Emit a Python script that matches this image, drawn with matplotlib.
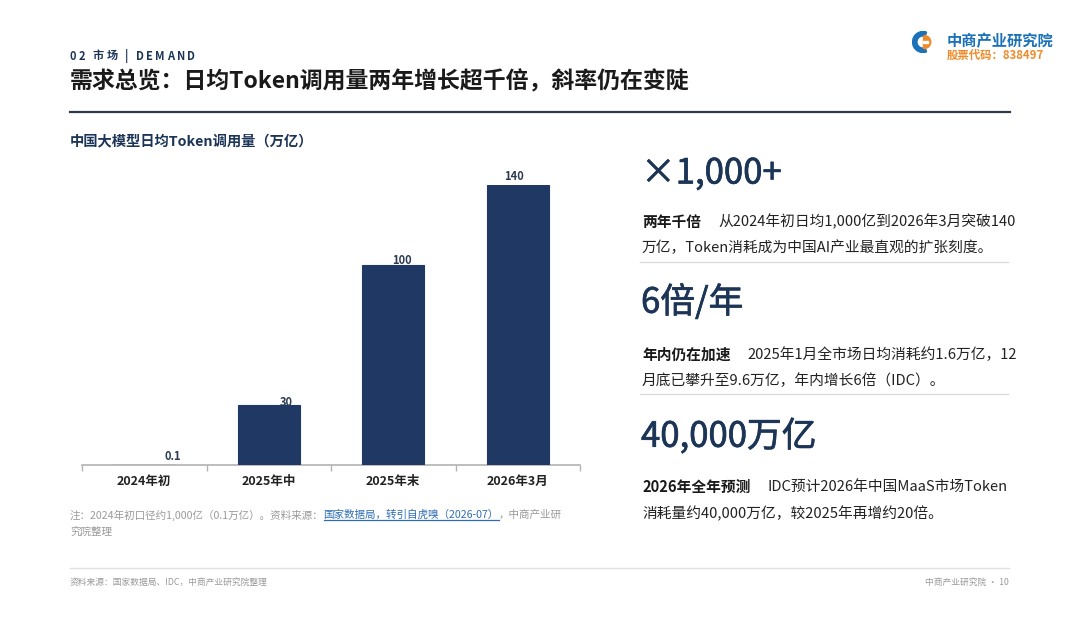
import matplotlib
matplotlib.use("Agg")
import matplotlib.pyplot as plt
import matplotlib.patheffects as pe
from matplotlib.patches import Wedge, Rectangle
from matplotlib.lines import Line2D
from matplotlib.ticker import FixedLocator

plt.rcParams['font.family'] = ['Noto Sans CJK SC', 'DejaVu Sans']

# ---------------- data ----------------
categories = ["2024年初", "2025年中", "2025年末", "2026年3月"]
values = [0.1, 30, 100, 140]
value_labels = ["0.1", "30", "100", "140"]

section_tag = "02 市场 | DEMAND"
title = "需求总览：日均Token调用量两年增长超千倍，斜率仍在变陡"
chart_title = "中国大模型日均Token调用量（万亿）"

kpi_big = ["×1,000+", "6倍/年", "40,000万亿"]
kpi_lead = ["两年千倍", "年内仍在加速", "2026年全年预测"]
kpi_line1 = ["从2024年初日均1,000亿到2026年3月突破140",
             "2025年1月全市场日均消耗约1.6万亿，12",
             "IDC预计2026年中国MaaS市场Token"]
kpi_line2 = ["万亿，Token消耗成为中国AI产业最直观的扩张刻度。",
             "月底已攀升至9.6万亿，年内增长6倍（IDC）。",
             "消耗量约40,000万亿，较2025年再增约20倍。"]

note_a = "注：2024年初口径约1,000亿（0.1万亿）。资料来源："
note_link = "国家数据局，转引自虎嗅（2026-07）"
note_b = "，中商产业研"
note_c = "究院整理"
footer_left = "资料来源：国家数据局、IDC，中商产业研究院整理"
footer_right = "中商产业研究院 · 10"
logo_name = "中商产业研究院"
logo_code = "股票代码：838497"

# ---------------- style ----------------
W, H = 1080, 623
NAVY = "#1f3864"
TXT_NAVY = "#1c3557"
DARK = "#222222"
GRAY = "#9a9a9a"
LINK = "#2e6db4"

fig = plt.figure(figsize=(W / 100, H / 100), dpi=100)
fig.patch.set_facecolor("white")


def fx(x):
    return x / W


def fy(y):
    return 1 - y / H


# header
fig.text(fx(70), fy(82), title, fontsize=16.5, fontweight="bold",
         color="#1a1a1a", va="center", ha="left")
fig.add_artist(Line2D([fx(70), fx(1010)], [fy(112), fy(112)],
                      color="#2b3a4f", lw=1.6, transform=fig.transFigure))

# logo
lax = fig.add_axes([fx(912), fy(53), fx(22) - fx(0), (22) / H])
lax.set_xlim(-1.05, 1.05)
lax.set_ylim(-1.05, 1.05)
lax.set_aspect("equal")
lax.axis("off")
lax.add_patch(Wedge((0, 0), 1.0, 70, 290, width=0.42, color="#1b72b8"))
lax.add_patch(Wedge((0.12, 0), 0.62, -90, 90, color="#ef8a2a"))
lax.add_patch(Rectangle((-0.02, -0.62), 0.14, 1.24, color="#ef8a2a"))
lax.add_patch(Rectangle((0.0, -0.06), 0.5, 0.12, color="white"))
fig.text(fx(947), fy(41), logo_name, fontsize=11, fontweight="bold",
         color="#1b72b8", va="center", ha="left")
fig.text(fx(947), fy(55), logo_code, fontsize=8.2, fontweight="bold",
         color="#ef8a2a", va="center", ha="left")

# chart title
fig.text(fx(70), fy(141), chart_title, fontsize=10.3, fontweight="bold",
         color=TXT_NAVY, va="center", ha="left")

# ---------------- bar chart ----------------
ax = fig.add_axes([fx(82), fy(465), (580 - 82) / W, (465 - 185) / H])
x = list(range(len(categories)))
ax.bar(x, values, width=0.5, color=NAVY, edgecolor=NAVY, linewidth=0.8, zorder=3)
ax.set_xlim(-0.5, len(categories) - 0.5)
ax.set_ylim(0, 140)
for s in ["top", "right", "left"]:
    ax.spines[s].set_visible(False)
ax.spines["bottom"].set_color("#b3b3b3")
ax.spines["bottom"].set_linewidth(1.2)
ax.spines["bottom"].set_zorder(2)
ax.set_yticks([])
ax.set_xticks(x)
ax.set_xticklabels(categories, fontsize=9, fontweight="bold", color=DARK)
ax.tick_params(axis="x", which="major", length=0, pad=7)
ax.xaxis.set_minor_locator(FixedLocator([i - 0.5 for i in range(len(categories) + 1)]))
ax.tick_params(axis="x", which="minor", length=4, width=1, color="#b3b3b3")
ax.patch.set_alpha(0)

# value labels (offsets in px as in the reference rendering)
label_dx_px = [29, 18, 9, -4]
label_dy_px = [8, 2, 5, 8]
for i, (v, lab) in enumerate(zip(values, value_labels)):
    ax.annotate(lab, xy=(i, v), xytext=(label_dx_px[i] * 0.72, label_dy_px[i] * 0.72),
                textcoords="offset points", ha="center", va="center",
                fontsize=8, fontweight="bold", color="#2b3a4f", zorder=2,
                annotation_clip=False)

# note under chart
NFS = 7.6
t1 = fig.text(fx(70), fy(515), note_a, fontsize=NFS, color=GRAY,
              va="center", ha="left")
t2 = fig.text(0, 0, note_link, fontsize=NFS, color=LINK, va="center", ha="left")
t3 = fig.text(0, 0, note_b, fontsize=NFS, color=GRAY, va="center", ha="left")
fig.text(fx(70), fy(532), note_c, fontsize=NFS, color=GRAY, va="center", ha="left")

# footer
fig.add_artist(Line2D([fx(70), fx(1009)], [fy(568), fy(568)],
                      color="#e2e2e2", lw=1.0, transform=fig.transFigure))
fig.text(fx(70), fy(582), footer_left, fontsize=6.3, color=GRAY,
         va="center", ha="left")
fig.text(fx(1009), fy(582), footer_right, fontsize=6.3, color=GRAY,
         va="center", ha="right")

# ---------------- right KPI panel ----------------
big_y = [174, 303, 437]
l1_y = [222, 355, 487]
l2_y = [248, 381, 514]
div_y = [262, 394]
BFS = 10.6
leads = []
bodies = []
for i in range(3):
    fig.text(fx(641), fy(big_y[i]), kpi_big[i], fontsize=25, color=TXT_NAVY,
             va="center", ha="left",
             path_effects=[pe.withStroke(linewidth=0.5, foreground=TXT_NAVY)])
    ld = fig.text(fx(642), fy(l1_y[i]), kpi_lead[i], fontsize=BFS,
                  fontweight="bold", color="#1a1a1a", va="center", ha="left")
    bd = fig.text(0, 0, kpi_line1[i], fontsize=BFS, color=DARK,
                  va="center", ha="left")
    leads.append(ld)
    bodies.append(bd)
    fig.text(fx(642), fy(l2_y[i]), kpi_line2[i], fontsize=BFS, color=DARK,
             va="center", ha="left")
for y in div_y:
    fig.add_artist(Line2D([fx(640), fx(1008)], [fy(y), fy(y)],
                          color="#dcdcdc", lw=1.0, transform=fig.transFigure))

# ---- letter-spaced section tag ----
tag_chars = list(section_tag)
tag_objs = [fig.text(0, fy(56), c, fontsize=8, fontweight="bold",
                     color=TXT_NAVY, va="center", ha="left") for c in tag_chars]

# ---- position chained text pieces ----
fig.canvas.draw()
r = fig.canvas.get_renderer()
inv = fig.transFigure.inverted()

cur = 70.0
for c, t in zip(tag_chars, tag_objs):
    t.set_x(fx(cur))
    if c == " ":
        cur += 5
    else:
        cur += t.get_window_extent(r).width + 2.4

bb1 = t1.get_window_extent(r)
t2.set_position((inv.transform((bb1.x1, 0))[0], fy(515)))
fig.canvas.draw()
bb2 = t2.get_window_extent(r)
t3.set_position((inv.transform((bb2.x1, 0))[0], fy(515)))
# underline for the link
uy = bb2.y0 + 0.5
p0 = inv.transform((bb2.x0, uy))
p1 = inv.transform((bb2.x1, uy))
fig.add_artist(Line2D([p0[0], p1[0]], [p0[1], p1[1]], color=LINK, lw=0.9,
                      transform=fig.transFigure))

for i in range(3):
    bbl = leads[i].get_window_extent(r)
    bodies[i].set_position((inv.transform((bbl.x1 + 17, 0))[0], fy(l1_y[i])))

fig.savefig("out.png", dpi=100, facecolor="white")
